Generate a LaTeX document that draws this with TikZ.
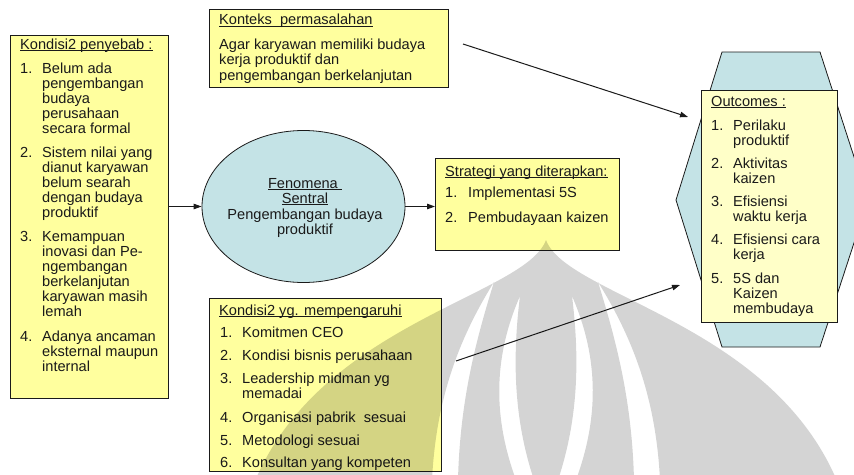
\documentclass[tikz,border=0pt]{standalone}
\usepackage{fontspec}
\setmainfont{Liberation Sans}
\usetikzlibrary{arrows.meta,shapes.geometric}

\definecolor{boxyellow}{HTML}{FFFF9E}
\definecolor{paleyellow}{HTML}{FFFFC8}
\definecolor{palecyan}{HTML}{C4E3E6}
\definecolor{inkgray}{HTML}{1A1A1A}

% underline sitting just below the baseline, through the descenders
\newcommand\ulin[1]{\setbox0\hbox{#1}\rlap{\rule[-1.9pt]{\wd0}{0.75pt}}\box0}

\begin{document}
\begin{tikzpicture}[x=1pt,y=-1pt,
  panel/.style={draw=inkgray,line width=0.8pt,fill=boxyellow,inner sep=0pt,outer sep=0pt},
  tx/.style={anchor=base west,inner sep=0pt,text=inkgray,font=\fontsize{14.6}{15}\selectfont},
  ctx/.style={tx,anchor=base},
  link/.style={draw=inkgray,line width=1pt,-{Triangle[length=8pt,width=5.5pt]}}]

\useasboundingbox (0,0) rectangle (854,474);
\fill[white] (0,0) rectangle (854,474);

% ---------- outcome hexagon ----------
\begin{scope}
  \clip (0,0) rectangle (854,474);
  \filldraw[fill=palecyan,draw=inkgray,line width=0.8pt]
    (722,52) -- (820,52) -- (868,200) -- (820,347) -- (722,347) -- (676,200) -- cycle;
\end{scope}

% ---------- boxes ----------
\node[panel,minimum width=158,minimum height=363] (causes) at (89,216.5) {};
\node[panel,minimum width=239,minimum height=78] (context) at (328.5,48) {};
\node[panel,minimum width=184,minimum height=92] (strategy) at (527,204) {};
\node[panel,minimum width=232,minimum height=173] (factors) at (325,384.5) {};
\node[panel,fill=paleyellow,minimum width=136,minimum height=232] (outcomes) at (769,206) {};
\node[ellipse,draw=inkgray,line width=0.8pt,fill=palecyan,inner sep=0pt,
      minimum width=203,minimum height=152] (central) at (303.5,206.5) {};

% ---------- connectors ----------
\coordinate (ctxtail) at (463,44);
\coordinate (ctxhead) at (688,117);
\coordinate (factail) at (456,361);
\coordinate (fachead) at (680,285);
\draw[link] (causes.east |- central.west) -- (central.west);
\draw[link] (central.east) -- (strategy.west |- central.east);
\draw[link] (ctxtail) -- (ctxhead);
\draw[link] (factail) -- (fachead);

% ---------- causes ----------
\node[tx] (causesT) at (20,49) {\ulin{Kondisi2 penyebab :}};
\node[tx] (cn1) at (20,73) {1.};
\node[tx] (cn2) at (20,157) {2.};
\node[tx] (cn3) at (20,241) {3.};
\node[tx] (cn4) at (20,341) {4.};
\foreach \yy/\txt [count=\i] in {73/Belum ada,88/pengembangan,103/budaya,118/perusahaan,133/secara formal,
  157/Sistem nilai yang,172/dianut karyawan,187/belum searah,202/dengan budaya,217/produktif,
  241/Kemampuan,256/inovasi dan Pe-,271/ngembangan,286/berkelanjutan,301/karyawan masih,316/lemah,
  341/Adanya ancaman,356/eksternal maupun,371/internal}
  \node[tx] (cl\i) at (42,\yy) {\txt};

% ---------- context ----------
\node[tx] (contextT) at (219,24.5) {\ulin{Konteks\ \ permasalahan}};
\node[tx] (cx1) at (219,49) {Agar karyawan memiliki budaya};
\node[tx] (cx2) at (219,64.5) {kerja produktif dan};
\node[tx] (cx3) at (219,80) {pengembangan berkelanjutan};

% ---------- central phenomenon ----------
\node[ctx] (ce1) at (305,188) {\ulin{Fenomena\ }};
\node[ctx] (ce2) at (305,203) {\ulin{Sentral}};
\node[ctx] (ce3) at (305,219) {Pengembangan budaya};
\node[ctx] (ce4) at (305,234) {produktif};

% ---------- strategy ----------
\node[tx] (strategyT) at (445,176) {\ulin{Strategi yang diterapkan:}};
\node[tx] (sn1) at (445,197) {1.};
\node[tx] (sl1) at (468,197) {Implementasi 5S};
\node[tx] (sn2) at (445,222) {2.};
\node[tx] (sl2) at (468,222) {Pembudayaan kaizen};

% ---------- influencing factors ----------
\node[tx] (factorsT) at (219,315) {\ulin{Kondisi2 yg. mempengaruhi}};
\foreach \yy/\nn [count=\i] in {337/1.,360/2.,383/3.,422/4.,445/5.,467/6.}
  \node[tx] (fn\i) at (220,\yy) {\nn};
\foreach \yy/\txt [count=\i] in {337/Komitmen CEO,360/Kondisi bisnis perusahaan,383/Leadership midman yg,
  398/memadai,422/Organisasi pabrik\ \ sesuai,445/Metodologi sesuai,467/Konsultan yang kompeten}
  \node[tx] (fl\i) at (242,\yy) {\txt};

% ---------- outcomes ----------
\node[tx] (outcomesT) at (711,106) {\ulin{Outcomes :}};
\foreach \yy/\nn [count=\i] in {130/1.,168/2.,206/3.,244/4.,283/5.}
  \node[tx] (on\i) at (711,\yy) {\nn};
\foreach \yy/\txt [count=\i] in {130/Perilaku,145/produktif,168/Aktivitas,183/kaizen,206/Efisiensi,
  221/waktu kerja,244/Efisiensi cara,259/kerja,283/5S dan,298/Kaizen,313/membudaya}
  \node[tx] (ol\i) at (733,\yy) {\txt};

% ---------- faint emblem in the background ----------
\begin{scope}
  \clip (0,0) rectangle (854,474);
  \fill[black,fill opacity=0.17,even odd rule]
    % the dome
    (546,240) .. controls (568,300) and (802,326) .. (850,520) -- (242,520)
      .. controls (290,326) and (524,300) .. cycle
    % outer blades
    (494,282) .. controls (458,340) and (436,400) .. (432,480) -- (458,480)
      .. controls (460,400) and (476,340) .. cycle
    (598,282) .. controls (634,340) and (656,400) .. (660,480) -- (634,480)
      .. controls (632,400) and (616,340) .. cycle
    % inner blades around the centre
    (520,296) .. controls (492,360) and (494,420) .. (516,480) -- (534,480)
      .. controls (514,420) and (512,360) .. cycle
    (572,296) .. controls (600,360) and (598,420) .. (576,480) -- (558,480)
      .. controls (578,420) and (580,360) .. cycle;
\end{scope}

\end{tikzpicture}
\end{document}
